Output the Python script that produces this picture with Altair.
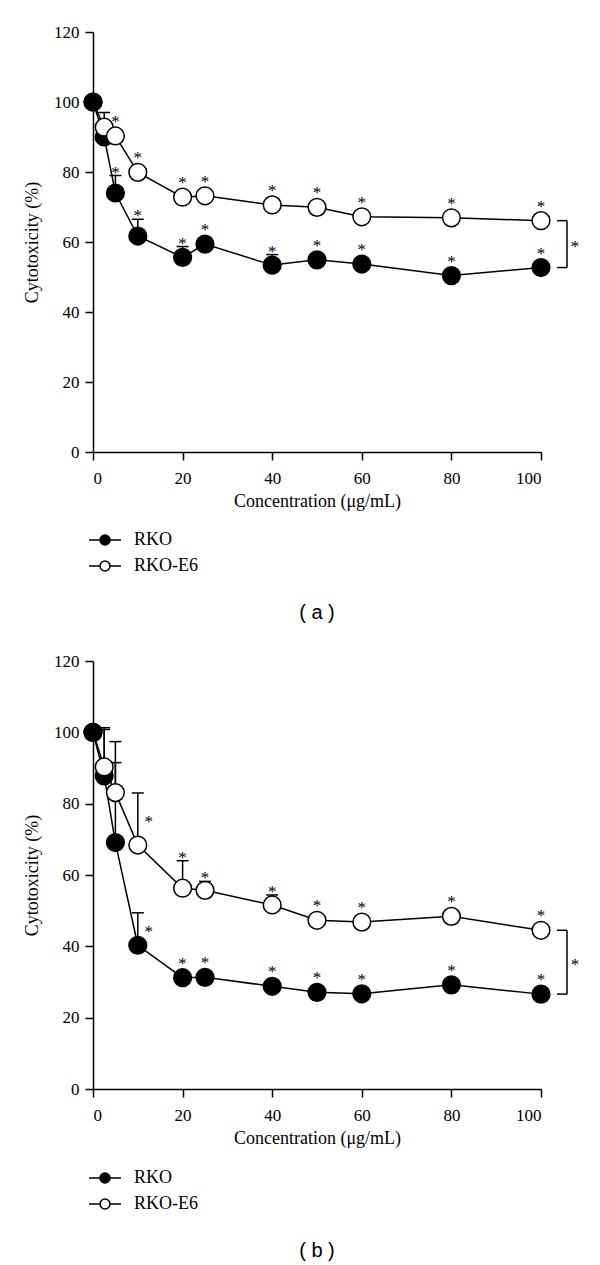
import altair as alt
import pandas as pd

# ---------------- data ----------------
conc = [0, 2.5, 5, 10, 20, 25, 40, 50, 60, 80, 100]
series_names = ["RKO", "RKO-E6"]

# panel (a)
a_rko = [100, 90.0, 74.0, 61.7, 55.6, 59.4, 53.4, 54.9, 53.7, 50.4, 52.7]
a_rko_err = [0, 0, 5.0, 4.8, 3.1, 0, 3.0, 0, 0, 0, 0]
a_rko_star = ["", "", "t", "t", "t", "t", "t", "t", "t", "t", "t"]
a_e6 = [100, 92.8, 90.3, 79.9, 72.8, 73.2, 70.6, 69.9, 67.2, 66.9, 66.1]
a_e6_err = [0, 4.2, 0, 0, 0, 0, 0, 0, 0, 0, 0]
a_e6_star = ["", "", "t", "t", "t", "t", "t", "t", "t", "t", "t"]

# panel (b)
b_rko = [100, 87.8, 69.1, 40.3, 31.2, 31.3, 28.8, 27.1, 26.7, 29.2, 26.6]
b_rko_err = [0, 13.0, 22.4, 9.1, 0, 0, 0, 0, 0, 0, 0]
b_rko_star = ["", "", "", "r", "t", "t", "t", "t", "t", "t", "t"]
b_e6 = [100, 90.3, 83.1, 68.4, 56.3, 55.7, 51.6, 47.3, 46.8, 48.4, 44.5]
b_e6_err = [0, 11.0, 14.3, 14.6, 7.7, 2.5, 2.8, 0, 0, 0, 0]
b_e6_star = ["", "", "", "r", "t", "t", "t", "t", "t", "t", "t"]

x_ticks = [0, 20, 40, 60, 80, 100]
y_ticks = [0, 20, 40, 60, 80, 100, 120]
panel_labels = ["( a )", "( b )"]
x_title = "Concentration (μg/mL)"
y_title = "Cytotoxicity (%)"
star_text = "*"

SERIF = "Liberation Serif"
LEGEND_PATH = ("M-1,0 A1,1 0 1,1 1,0 A1,1 0 1,1 -1,0 Z "
               "M-3.2,0 L-1,0 M1,0 L3.2,0")


def make_frame(rko, rko_err, rko_star, e6, e6_err, e6_star):
    rows = []
    for name, vals, errs, stars in [(series_names[0], rko, rko_err, rko_star),
                                    (series_names[1], e6, e6_err, e6_star)]:
        for c, v, e, s in zip(conc, vals, errs, stars):
            if s == "r":
                anchor = v + e / 2.0
            elif e > 0:
                anchor = v + e
            else:
                anchor = v
            if name == series_names[0]:
                order = 2 if c == conc[0] else 0
            else:
                order = 1
            rows.append(dict(series=name, conc=c, value=v, err=e, top=v + e,
                             star=s, anchor=anchor, order=order))
    return pd.DataFrame(rows)


def panel(df, height, label, legend_y):
    xs = alt.Scale(domain=[0, 100], nice=False)
    ys = alt.Scale(domain=[0, 120], nice=False)
    x_enc = alt.X("conc:Q", scale=xs,
                  axis=alt.Axis(values=x_ticks, title=x_title, format="d"))
    y_enc = alt.Y("value:Q", scale=ys,
                  axis=alt.Axis(values=y_ticks, title=y_title, format="d"))
    base = alt.Chart(df)

    lines = base.mark_line(color="black", strokeWidth=1.5).encode(
        x=x_enc, y=y_enc, detail="series:N", order="conc:Q")

    err = base.transform_filter("datum.err > 0")
    bars = err.mark_rule(color="black", strokeWidth=1.5).encode(
        x="conc:Q", y="value:Q", y2="top:Q")
    caps = err.mark_rule(color="black", strokeWidth=1.5, xOffset=-6,
                         x2Offset=6).encode(x="conc:Q", x2="conc:Q", y="top:Q")

    points = base.mark_point(shape="circle", filled=True, size=314,
                             stroke="black", strokeWidth=1.5, opacity=1).encode(
        x="conc:Q", y="value:Q",
        fill=alt.Fill("series:N",
                      scale=alt.Scale(domain=series_names, range=["black", "white"]),
                      legend=alt.Legend(orient="none", legendX=3, legendY=legend_y,
                                        title=None, symbolType=LEGEND_PATH,
                                        symbolSize=100, symbolStrokeColor="black",
                                        symbolStrokeWidth=1.5, labelFont=SERIF,
                                        labelFontSize=18, labelColor="black",
                                        labelOffset=20, rowPadding=8, padding=0)),
        order="order:Q")

    star_style = dict(text=star_text, font=SERIF, fontSize=17, fill="black",
                      align="center", baseline="middle")
    stars_circle = base.transform_filter(
        "datum.star == 't' && datum.err == 0").mark_text(dy=-14, **star_style).encode(
        x="conc:Q", y="anchor:Q")
    stars_cap = base.transform_filter(
        "datum.star == 't' && datum.err > 0").mark_text(dy=-3, **star_style).encode(
        x="conc:Q", y="anchor:Q")
    stars_side = base.transform_filter("datum.star == 'r'").mark_text(
        dx=11, dy=3, **star_style).encode(x="conc:Q", y="anchor:Q")

    last = df[df["conc"] == conc[-1]]
    hi = float(last[last["series"] == series_names[1]]["value"].iloc[0])
    lo = float(last[last["series"] == series_names[0]]["value"].iloc[0])
    br = pd.DataFrame([dict(conc=conc[-1], y1=hi, y2=lo, mid=(hi + lo) / 2)])
    bb = alt.Chart(br)
    br_v = bb.mark_rule(color="black", strokeWidth=1.5, xOffset=26).encode(
        x="conc:Q", y="y1:Q", y2="y2:Q")
    br_t = bb.mark_rule(color="black", strokeWidth=1.5, xOffset=16,
                        x2Offset=26).encode(x="conc:Q", x2="conc:Q", y="y1:Q")
    br_b = bb.mark_rule(color="black", strokeWidth=1.5, xOffset=16,
                        x2Offset=26).encode(x="conc:Q", x2="conc:Q", y="y2:Q")
    br_s = bb.mark_text(dx=34, dy=3, **star_style).encode(x="conc:Q", y="mid:Q")

    return alt.layer(lines, bars, caps, points, stars_circle, stars_cap,
                     stars_side, br_v, br_t, br_b, br_s).properties(
        width=448, height=height,
        title=alt.TitleParams(label, orient="bottom", anchor="middle",
                              font="Liberation Sans", fontSize=20,
                              fontWeight="normal", color="black", offset=28))


df_a = make_frame(a_rko, a_rko_err, a_rko_star, a_e6, a_e6_err, a_e6_star)
df_b = make_frame(b_rko, b_rko_err, b_rko_star, b_e6, b_e6_err, b_e6_star)

chart = alt.vconcat(
    panel(df_a, 420, panel_labels[0], 499),
    panel(df_b, 428, panel_labels[1], 508),
    spacing=29,
).resolve_scale(fill="independent").resolve_legend(fill="independent").properties(
    padding={"left": 15, "top": 15, "right": 5, "bottom": 5}
).configure_view(stroke=None).configure_axis(
    domainColor="black", domainWidth=1.5, tickColor="black", tickWidth=1.5,
    tickSize=8, grid=False, labelFont=SERIF, labelFontSize=17,
    labelColor="black", titleFont=SERIF, titleFontSize=18,
    titleFontWeight="normal", titleColor="black"
).configure_axisX(labelPadding=10, titlePadding=6).configure_axisY(
    labelPadding=6, titlePadding=12)

chart.save("out.html", embed_options={"renderer": "svg", "actions": False})
